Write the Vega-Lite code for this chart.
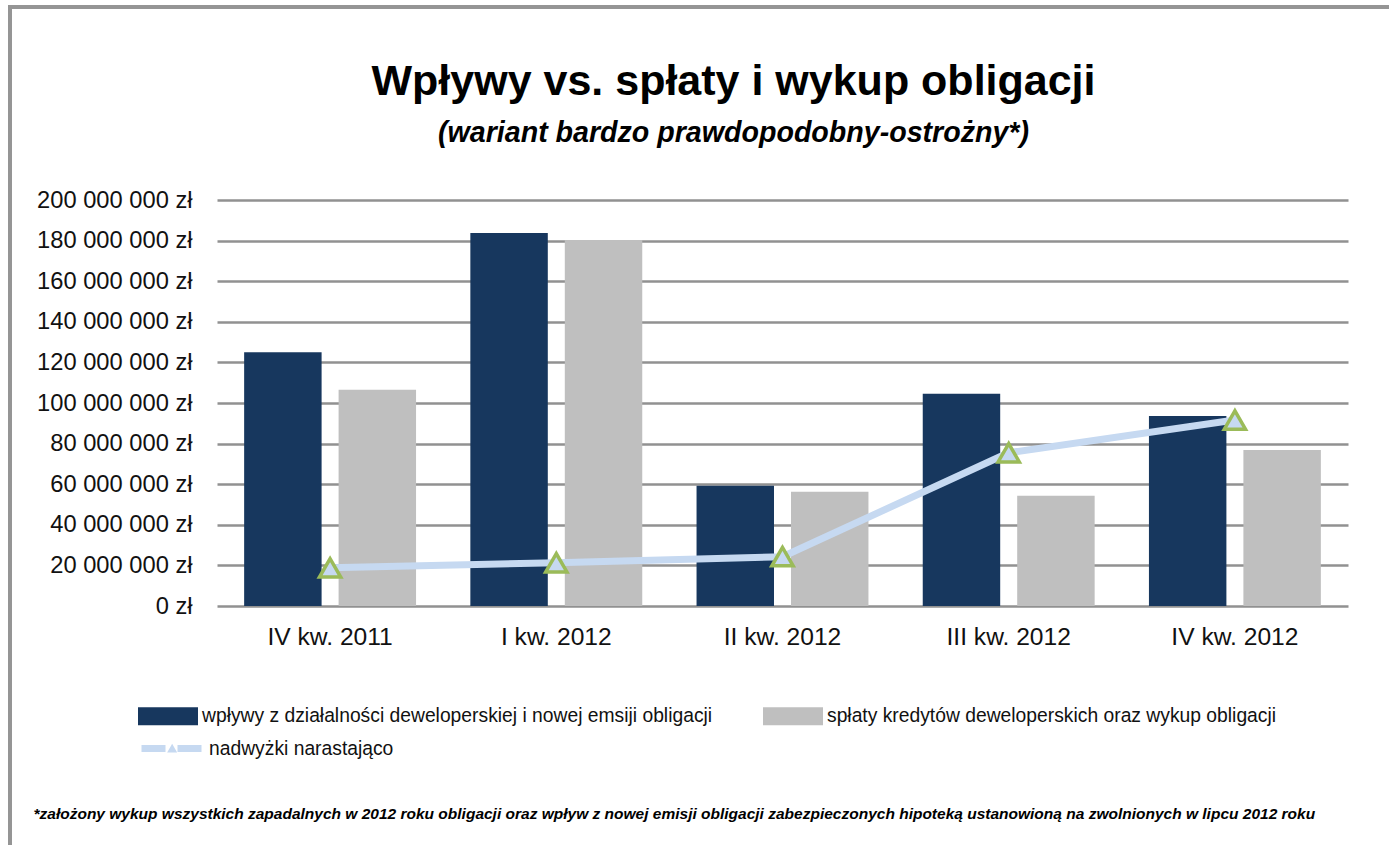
{
  "$schema": "https://vega.github.io/schema/vega-lite/v6.json",
  "autosize": {"type": "none"},
  "padding": {"left": 217, "top": 200, "right": 41, "bottom": 239},
  "width": 1131,
  "height": 406,
  "background": "white",
  "config": {
    "font": "Liberation Sans",
    "view": {"stroke": null},
    "legend": {"padding": 0, "labelFont": "Liberation Sans", "labelFontSize": 19.3, "labelColor": "#111111", "labelLimit": 1000, "strokeWidth": 4}
  },
  "title": {
    "text": "Wpływy vs. spłaty i wykup obligacji",
    "subtitle": "(wariant bardzo prawdopodobny-ostrożny*)",
    "frame": "group",
    "anchor": "middle",
    "dx": -49,
    "offset": -143,
    "font": "Liberation Sans",
    "fontSize": 43,
    "fontWeight": "bold",
    "color": "#000000",
    "subtitleFont": "Liberation Sans",
    "subtitleFontSize": 28.6,
    "subtitleFontWeight": "bold",
    "subtitleFontStyle": "italic",
    "subtitleColor": "#000000",
    "subtitlePadding": 15
  },
  "datasets": {
    "slupki": [
      {"kwartal": "IV kw. 2011", "seria": "wpływy z działalności deweloperskiej i nowej emsiji obligacji", "wartosc": 125000000},
      {"kwartal": "IV kw. 2011", "seria": "spłaty kredytów deweloperskich oraz wykup obligacji", "wartosc": 106500000},
      {"kwartal": "I kw. 2012", "seria": "wpływy z działalności deweloperskiej i nowej emsiji obligacji", "wartosc": 183700000},
      {"kwartal": "I kw. 2012", "seria": "spłaty kredytów deweloperskich oraz wykup obligacji", "wartosc": 180300000},
      {"kwartal": "II kw. 2012", "seria": "wpływy z działalności deweloperskiej i nowej emsiji obligacji", "wartosc": 59200000},
      {"kwartal": "II kw. 2012", "seria": "spłaty kredytów deweloperskich oraz wykup obligacji", "wartosc": 56300000},
      {"kwartal": "III kw. 2012", "seria": "wpływy z działalności deweloperskiej i nowej emsiji obligacji", "wartosc": 104500000},
      {"kwartal": "III kw. 2012", "seria": "spłaty kredytów deweloperskich oraz wykup obligacji", "wartosc": 54300000},
      {"kwartal": "IV kw. 2012", "seria": "wpływy z działalności deweloperskiej i nowej emsiji obligacji", "wartosc": 93600000},
      {"kwartal": "IV kw. 2012", "seria": "spłaty kredytów deweloperskich oraz wykup obligacji", "wartosc": 76800000}
    ],
    "nadwyzki": [
      {"kwartal": "IV kw. 2011", "wartosc": 18800000},
      {"kwartal": "I kw. 2012", "wartosc": 21300000},
      {"kwartal": "II kw. 2012", "wartosc": 24300000},
      {"kwartal": "III kw. 2012", "wartosc": 75500000},
      {"kwartal": "IV kw. 2012", "wartosc": 91600000}
    ]
  },
  "layer": [
    {
      "data": {"name": "slupki"},
      "mark": {"type": "bar"},
      "encoding": {
        "x": {
          "field": "kwartal", "type": "nominal",
          "sort": ["IV kw. 2011", "I kw. 2012", "II kw. 2012", "III kw. 2012", "IV kw. 2012"],
          "scale": {"paddingInner": 0.24, "paddingOuter": 0.12},
          "axis": {
            "labelAngle": 0, "labelFontSize": 24.6, "labelPadding": 19, "labelColor": "#111111",
            "labelFont": "Liberation Sans",
            "domain": false, "ticks": false, "grid": false,
            "title": "*założony wykup wszystkich zapadalnych w 2012 roku obligacji oraz wpływ z nowej emisji obligacji  zabezpieczonych  hipoteką ustanowioną na zwolnionych  w lipcu 2012 roku",
            "titleFont": "Liberation Sans", "titleFontSize": 15.5, "titleFontWeight": "bold", "titleFontStyle": "italic",
            "titleColor": "#000000", "titleX": -184, "titleY": 207, "titleAlign": "left", "titleAnchor": "start", "titleBaseline": "middle"
          }
        },
        "xOffset": {
          "field": "seria", "type": "nominal",
          "sort": ["wpływy z działalności deweloperskiej i nowej emsiji obligacji", "spłaty kredytów deweloperskich oraz wykup obligacji"],
          "scale": {"paddingInner": 0.18, "paddingOuter": 0}
        },
        "y": {
          "field": "wartosc", "type": "quantitative",
          "scale": {"domain": [0, 200000000], "nice": false},
          "axis": {
            "values": [0, 20000000, 40000000, 60000000, 80000000, 100000000, 120000000, 140000000, 160000000, 180000000, 200000000],
            "labelExpr": "format(datum.value / 1000000, 'd') + (datum.value > 0 ? ' 000 000 zł' : ' zł')",
            "labelFontSize": 23.7, "labelPadding": 25, "labelColor": "#111111", "labelFont": "Liberation Sans",
            "domain": false, "ticks": false, "grid": true, "gridColor": "#919191", "gridWidth": 2.5,
            "title": null
          }
        },
        "color": {
          "field": "seria", "type": "nominal",
          "scale": {
            "domain": ["wpływy z działalności deweloperskiej i nowej emsiji obligacji", "spłaty kredytów deweloperskich oraz wykup obligacji"],
            "range": ["#17375e", "#bfbfbf"]
          },
          "legend": {
            "title": null, "orient": "none", "legendX": -79, "legendY": 486,
            "direction": "horizontal", "columns": 2, "columnPadding": 50,
            "symbolType": "M-1,-0.3H1V0.3H-1Z", "symbolSize": 3600, "symbolStrokeWidth": 0,
            "labelOffset": 4
          }
        },
        "opacity": {
          "datum": "ramka",
          "scale": {"type": "ordinal", "domain": ["ramka"], "range": [1]},
          "legend": {
            "title": null, "orient": "none", "legendX": -207, "legendY": -193,
            "symbolType": "square", "symbolSize": 4000000,
            "symbolFillColor": "transparent", "symbolStrokeColor": "transparent", "symbolStrokeWidth": 0,
            "labelExpr": "''", "labelOffset": 0,
            "fillColor": "transparent",
            "strokeColor": "#959595"
          }
        }
      }
    },
    {
      "data": {"name": "nadwyzki"},
      "mark": {"type": "line", "strokeWidth": 7},
      "encoding": {
        "x": {"field": "kwartal", "type": "nominal", "sort": ["IV kw. 2011", "I kw. 2012", "II kw. 2012", "III kw. 2012", "IV kw. 2012"]},
        "y": {"field": "wartosc", "type": "quantitative"},
        "stroke": {
          "datum": "nadwyżki narastająco",
          "scale": {"domain": ["nadwyżki narastająco"], "range": ["#c6d9f1"]},
          "legend": {
            "title": null, "orient": "none", "legendX": -79, "legendY": 515,
            "symbolType": "M-1,0H-0.2M0.2,0H1", "symbolSize": 3600, "symbolStrokeWidth": 7,
            "symbolFillColor": "transparent",
            "labelOffset": 4
          }
        }
      }
    },
    {
      "data": {"name": "nadwyzki"},
      "mark": {"type": "point", "filled": true, "fill": "#c6d9f1", "stroke": "#9bbb59", "strokeWidth": 3.5, "size": 450, "opacity": 1},
      "encoding": {
        "x": {"field": "kwartal", "type": "nominal", "sort": ["IV kw. 2011", "I kw. 2012", "II kw. 2012", "III kw. 2012", "IV kw. 2012"]},
        "y": {"field": "wartosc", "type": "quantitative"},
        "shape": {
          "datum": "znacznik",
          "scale": {"domain": ["znacznik"], "range": ["triangle-up"]},
          "legend": {
            "title": null, "orient": "none", "legendX": -54.5, "legendY": 538.5,
            "symbolSize": 100, "symbolStrokeWidth": 3, "symbolFillColor": "#9bbb59", "symbolStrokeColor": "#9bbb59",
            "labelExpr": "''", "labelOffset": 0
          }
        }
      }
    }
  ]
}
